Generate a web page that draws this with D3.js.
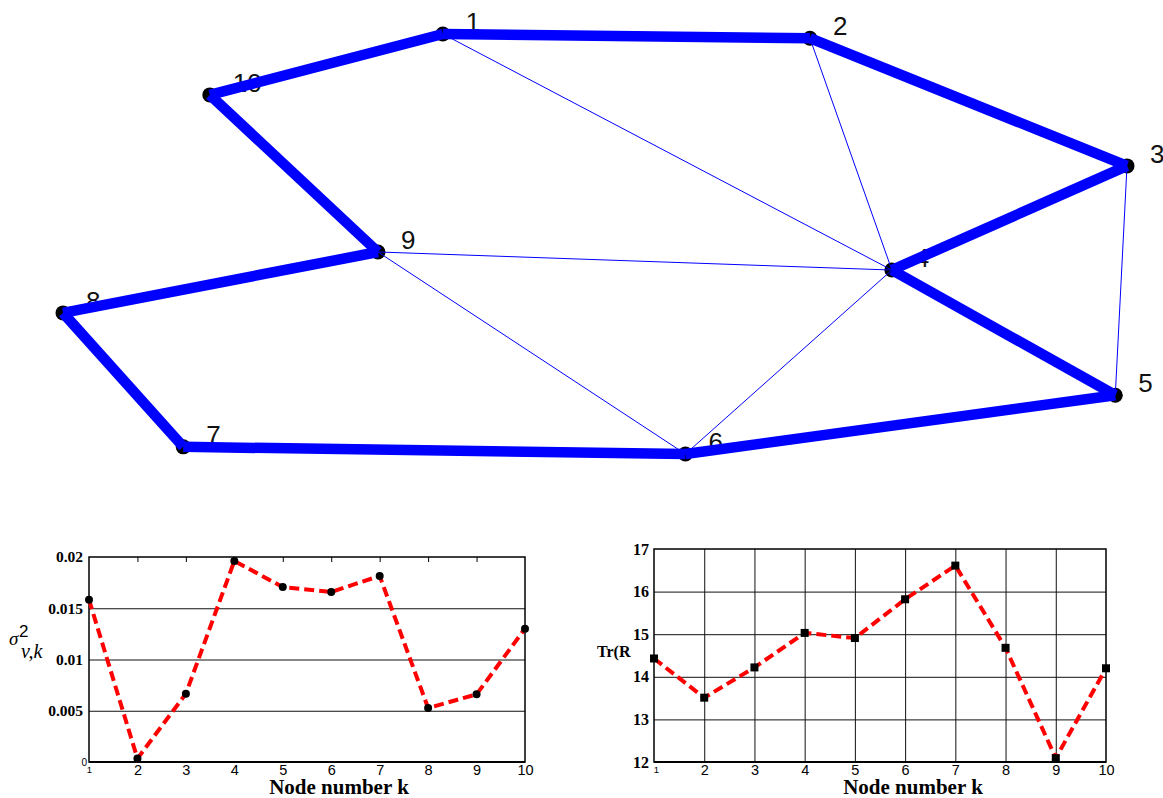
<!DOCTYPE html>
<html>
<head>
<meta charset="utf-8">
<script src="https://cdn.jsdelivr.net/npm/d3@7"></script>
<style>
  body { margin: 0; background: #fff; }
  svg { display: block; }
</style>
</head>
<body>
<div id="chart"></div>
<script>
// network layout (arbitrary units 0..100)
const nodeIds = [1, 2, 3, 4, 5, 6, 7, 8, 9, 10];
const nodeX = [35.7, 70.2, 100, 77.9, 98.9, 58.5, 11.3, 0, 29.6, 13.8];
const nodeY = [100, 99.0, 68.6, 43.8, 14.0, 0, 1.7, 33.6, 48.1, 85.5];
const ringEdges = [[1, 2], [2, 3], [3, 4], [4, 5], [5, 6], [6, 7], [7, 8], [8, 9], [9, 10], [10, 1]];
const chordEdges = [[1, 4], [2, 4], [9, 4], [9, 6], [6, 4], [3, 5]];

// bottom charts
const nodeNumbers = [1, 2, 3, 4, 5, 6, 7, 8, 9, 10];
const noiseVar = [0.01584, 0.00033, 0.00667, 0.01961, 0.01707, 0.01659, 0.01815, 0.00527, 0.0066, 0.01301];
const traceR = [14.43, 13.51, 14.22, 15.03, 14.91, 15.82, 16.61, 14.68, 12.09, 14.20];
const varTicks = [0.005, 0.01, 0.015, 0.02];
const varTickLabels = ["0.005", "0.01", "0.015", "0.02"];
const trTicks = [13, 14, 15, 16, 17];

const W = 1163, H = 798;
const SERIF = "'Liberation Serif', 'Times New Roman', serif";
const SANS = "'Liberation Sans', Arial, sans-serif";

const svg = d3.select("#chart").append("svg").attr("width", W).attr("height", H);

// ---------- network ----------
const nx = d3.scaleLinear().domain([0, 100]).range([63, 1127]);
const ny = d3.scaleLinear().domain([0, 100]).range([454, 34]);
const pos = {};
nodeIds.forEach((id, i) => { pos[id] = [nx(nodeX[i]), ny(nodeY[i])]; });

const net = svg.append("g");
net.selectAll("circle").data(nodeIds).join("circle")
    .attr("cx", d => pos[d][0]).attr("cy", d => pos[d][1])
    .attr("r", 7.5).attr("fill", "#000");

net.selectAll("text").data(nodeIds).join("text")
    .attr("x", d => pos[d][0] + 23).attr("y", d => pos[d][1] - 3)
    .attr("font-family", SANS).attr("font-size", 26).attr("fill", "#111")
    .text(d => d);

net.selectAll("line.chord").data(chordEdges).join("line").attr("class", "chord")
    .attr("x1", d => pos[d[0]][0]).attr("y1", d => pos[d[0]][1])
    .attr("x2", d => pos[d[1]][0]).attr("y2", d => pos[d[1]][1])
    .attr("stroke", "#0000ff").attr("stroke-width", 1);

net.selectAll("line.ring").data(ringEdges).join("line").attr("class", "ring")
    .attr("x1", d => pos[d[0]][0]).attr("y1", d => pos[d[0]][1])
    .attr("x2", d => pos[d[1]][0]).attr("y2", d => pos[d[1]][1])
    .attr("stroke", "#0000ff").attr("stroke-width", 10.5).attr("stroke-linecap", "butt");

// ---------- helper for the two plots ----------
function framePlot(g, x, y) {
    const [x0, x1] = x.range(), [y0, y1] = y.range();
    g.append("rect").attr("x", x0).attr("y", y1).attr("width", x1 - x0).attr("height", y0 - y1)
        .attr("fill", "none").attr("stroke", "#000").attr("stroke-width", 1.5);
    g.append("line").attr("x1", x0).attr("x2", x1).attr("y1", y0).attr("y2", y0)
        .attr("stroke", "#000").attr("stroke-width", 2.2);
}

function styleAxis(sel, family, size, weight) {
    sel.select(".domain").remove();
    sel.selectAll("text").attr("font-family", family).attr("font-size", size)
        .attr("font-weight", weight).attr("fill", "#000");
}

// ---------- left plot: noise variance ----------
const x1 = d3.scaleLinear().domain([1, 10]).range([89, 525]);
const y1 = d3.scaleLinear().domain([0, 0.02]).range([762, 557]);
const g1 = svg.append("g");

// horizontal grid
g1.append("g").attr("transform", `translate(${x1.range()[0]},0)`)
    .call(d3.axisLeft(y1).tickValues([0.005, 0.01, 0.015]).tickSize(-(x1.range()[1] - x1.range()[0])).tickFormat(""))
    .call(s => s.select(".domain").remove())
    .selectAll("line").attr("stroke", "#111").attr("stroke-width", 1);

// small inward ticks on top edge
g1.append("g").attr("transform", `translate(0,${y1.range()[1]})`)
    .call(d3.axisTop(x1).tickValues(nodeNumbers.slice(1, 9)).tickSize(-5).tickFormat(""))
    .call(s => s.select(".domain").remove())
    .selectAll("line").attr("stroke", "#000");

framePlot(g1, x1, y1);

g1.append("g").attr("transform", `translate(${x1.range()[0]},0)`)
    .call(d3.axisLeft(y1).tickValues(varTicks).tickSize(0).tickPadding(6)
        .tickFormat((d, i) => varTickLabels[i]))
    .call(s => styleAxis(s, SERIF, 15.5, "bold"));
g1.append("g").attr("transform", `translate(${x1.range()[0]},0)`)
    .call(d3.axisLeft(y1).tickValues([0]).tickSize(0).tickPadding(2).tickFormat(d3.format("d")))
    .call(s => styleAxis(s, SANS, 10, "normal"));

g1.append("g").attr("transform", `translate(0,${y1.range()[0]})`)
    .call(d3.axisBottom(x1).tickValues(nodeNumbers.slice(1)).tickSize(0).tickPadding(3))
    .call(s => styleAxis(s, SANS, 14.5, "normal"));
g1.append("g").attr("transform", `translate(0,${y1.range()[0]})`)
    .call(d3.axisBottom(x1).tickValues([1]).tickSize(0).tickPadding(4))
    .call(s => styleAxis(s, SANS, 9.5, "normal"));

const line1 = d3.line().x((d, i) => x1(nodeNumbers[i])).y(d => y1(d));
g1.append("path").datum(noiseVar).attr("d", line1)
    .attr("fill", "none").attr("stroke", "#ff0000").attr("stroke-width", 4)
    .attr("stroke-dasharray", "10,5");
g1.selectAll("circle").data(noiseVar).join("circle")
    .attr("cx", (d, i) => x1(nodeNumbers[i])).attr("cy", d => y1(d))
    .attr("r", 4).attr("fill", "#000");

g1.append("text").attr("x", 339).attr("y", 794).attr("text-anchor", "middle")
    .attr("font-family", SERIF).attr("font-weight", "bold").attr("font-size", 21)
    .text("Node number k");

// y label: sigma^2_{v,k}
const yl = g1.append("g");
yl.append("text").attr("x", 9).attr("y", 645).attr("font-family", SERIF)
    .attr("font-style", "italic").attr("font-size", 19).text("σ");
yl.append("text").attr("x", 19).attr("y", 637).attr("font-family", SANS)
    .attr("font-size", 17).text("2");
yl.append("text").attr("x", 21).attr("y", 658).attr("font-family", SERIF)
    .attr("font-style", "italic").attr("font-size", 20).text("v,k");

// ---------- right plot: trace ----------
const x2 = d3.scaleLinear().domain([1, 10]).range([654, 1106]);
const y2 = d3.scaleLinear().domain([12, 17]).range([762, 549]);
const g2 = svg.append("g");

g2.append("g").attr("transform", `translate(${x2.range()[0]},0)`)
    .call(d3.axisLeft(y2).tickValues(trTicks.slice(0, 4)).tickSize(-(x2.range()[1] - x2.range()[0])).tickFormat(""))
    .call(s => s.select(".domain").remove())
    .selectAll("line").attr("stroke", "#111").attr("stroke-width", 1);
g2.append("g").attr("transform", `translate(0,${y2.range()[0]})`)
    .call(d3.axisBottom(x2).tickValues(nodeNumbers.slice(1, 9)).tickSize(-(y2.range()[0] - y2.range()[1])).tickFormat(""))
    .call(s => s.select(".domain").remove())
    .selectAll("line").attr("stroke", "#111").attr("stroke-width", 1);

framePlot(g2, x2, y2);

g2.append("g").attr("transform", `translate(${x2.range()[0]},0)`)
    .call(d3.axisLeft(y2).tickValues([12].concat(trTicks)).tickSize(0).tickPadding(5).tickFormat(d3.format("d")))
    .call(s => styleAxis(s, SERIF, 16, "bold"));

g2.append("g").attr("transform", `translate(0,${y2.range()[0]})`)
    .call(d3.axisBottom(x2).tickValues(nodeNumbers.slice(1)).tickSize(0).tickPadding(3))
    .call(s => styleAxis(s, SANS, 14.5, "normal"));
g2.append("g").attr("transform", `translate(0,${y2.range()[0]})`)
    .call(d3.axisBottom(x2).tickValues([1]).tickSize(0).tickPadding(4))
    .call(s => s.selectAll("text").attr("dx", 2))
    .call(s => styleAxis(s, SANS, 9.5, "normal"));

const line2 = d3.line().x((d, i) => x2(nodeNumbers[i])).y(d => y2(d));
g2.append("path").datum(traceR).attr("d", line2)
    .attr("fill", "none").attr("stroke", "#ff0000").attr("stroke-width", 4)
    .attr("stroke-dasharray", "10,5");
g2.selectAll("rect.mk").data(traceR).join("rect").attr("class", "mk")
    .attr("x", (d, i) => x2(nodeNumbers[i]) - 4).attr("y", d => y2(d) - 4)
    .attr("width", 8).attr("height", 8).attr("fill", "#000");

g2.append("text").attr("x", 913).attr("y", 794).attr("text-anchor", "middle")
    .attr("font-family", SERIF).attr("font-weight", "bold").attr("font-size", 21)
    .text("Node number k");

g2.append("text").attr("x", 597).attr("y", 657)
    .attr("font-family", SERIF).attr("font-weight", "bold").attr("font-size", 16)
    .text("Tr(R");
</script>
</body>
</html>
